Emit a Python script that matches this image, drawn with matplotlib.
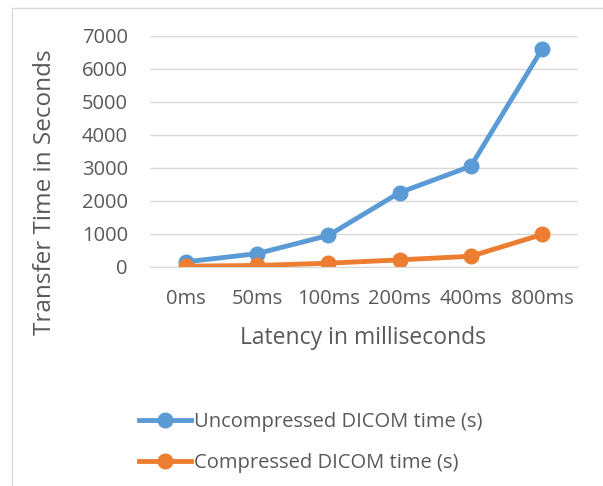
import matplotlib.pyplot as plt
from matplotlib.lines import Line2D
from matplotlib.patches import Rectangle

latency = ["0ms", "50ms", "100ms", "200ms", "400ms", "800ms"]
uncompressed = [150, 400, 950, 2250, 3050, 6600]
compressed = [20, 40, 110, 210, 320, 980]

blue = "#5b9bd5"
orange = "#ed7d31"
grey = "#595959"

plt.rcParams['font.family'] = ['Open Sans', 'DejaVu Sans']

fig = plt.figure(figsize=(6.03, 4.86), dpi=100)
ax = fig.add_axes([0.249, 0.451, 0.709, 0.475])

x = range(len(latency))
ax.plot(x, uncompressed, color=blue, lw=3.5, marker="o", ms=10.5, solid_capstyle="round")
ax.plot(x, compressed, color=orange, lw=3.5, marker="o", ms=10.5, solid_capstyle="round")

ax.set_ylim(0, 7000)
ax.set_xlim(-0.5, 5.5)
ax.set_yticks(range(0, 7001, 1000))
ax.set_xticks(list(x))
ax.set_xticklabels(latency)
ax.grid(axis="y", color="#d9d9d9", lw=1)
ax.set_axisbelow(True)
for s in ax.spines.values():
    s.set_visible(False)
ax.spines["bottom"].set_visible(True)
ax.spines["bottom"].set_color("#d9d9d9")
ax.tick_params(length=0, labelsize=14.5, labelcolor=grey)
ax.tick_params(axis="x", pad=16)
ax.tick_params(axis="y", pad=16)

fig.text(0.5 * (238 + 488) / 603, 1 - 338 / 486, "Latency in milliseconds",
         fontsize=16.5, color=grey, ha="center", va="center")
fig.text(45 / 603, 1 - 192 / 486, "Transfer Time in Seconds",
         fontsize=17.5, color=grey, ha="center", va="center", rotation=90)

# chart border
fig.patches.append(Rectangle((12 / 603, -0.05), 1.0, 1 - 8 / 486 + 0.05,
                             transform=fig.transFigure, fill=False,
                             ec="#d9d9d9", lw=1))

handles = [Line2D([], [], color=blue, lw=3.5, marker="o", ms=10.5),
           Line2D([], [], color=orange, lw=3.5, marker="o", ms=10.5)]
fig.legend(handles, ["Uncompressed DICOM time (s)", "Compressed DICOM time (s)"],
           loc="center left", bbox_to_anchor=(0.2, 0.09), frameon=False,
           fontsize=14.5, labelcolor=grey, handlelength=2.6, handletextpad=0.15,
           labelspacing=1.05)

fig.savefig("out.png")
